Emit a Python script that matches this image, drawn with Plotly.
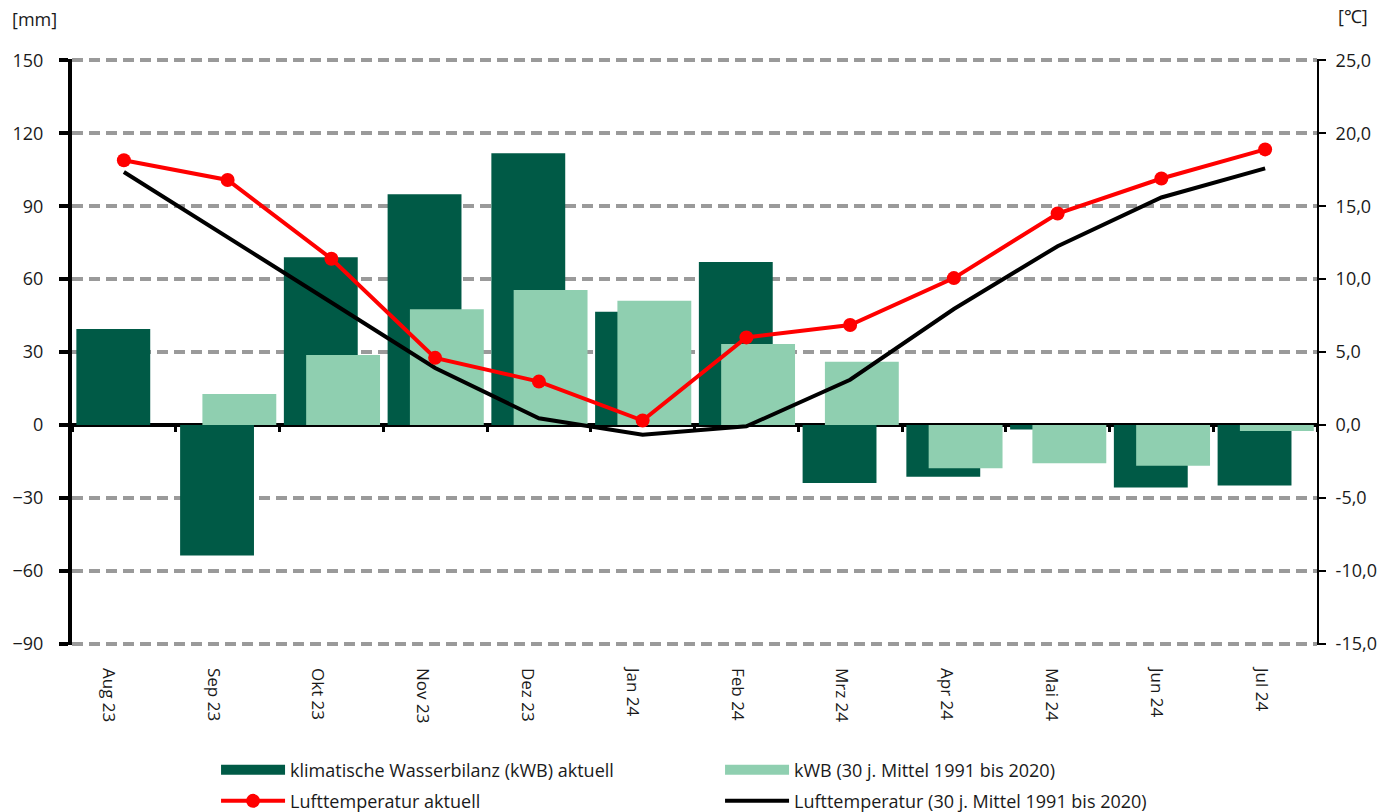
import plotly.graph_objects as go

months = ["Aug 23", "Sep 23", "Okt 23", "Nov 23", "Dez 23", "Jan 24",
          "Feb 24", "Mrz 24", "Apr 24", "Mai 24", "Jun 24", "Jul 24"]
kwb_aktuell = [39.5, -53.8, 69.0, 94.9, 111.8, 46.6, 67.0, -23.9, -21.3, -1.9, -25.8, -24.9]
kwb_mittel = [0.0, 12.7, 28.8, 47.6, 55.5, 51.1, 33.3, 26.0, -17.8, -15.8, -16.8, -2.5]
temp_aktuell = [18.15, 16.8, 11.4, 4.6, 2.97, 0.3, 6.0, 6.85, 10.07, 14.5, 16.9, 18.9]
temp_mittel = [17.35, 12.9, 8.4, 3.9, 0.45, -0.68, -0.1, 3.1, 7.95, 12.26, 15.6, 17.6]

mm_ticks = [-90, -60, -30, 0, 30, 60, 90, 120, 150]
c_ticks = [-15, -10, -5, 0, 5, 10, 15, 20, 25]
c_ticktext = ["-15,0", "-10,0", "-5,0", "0,0", "5,0", "10,0", "15,0", "20,0", "25,0"]

DARK = "#005A46"
LIGHT = "#8FCFB0"
RED = "#FF0000"

idx = list(range(len(months)))
label_pos = [i * 1.0101 - 0.149 for i in idx]
bounds = [i - 0.5 for i in range(len(months) + 1)]

fig = go.Figure()
fig.add_trace(go.Bar(x=idx, y=kwb_aktuell, width=0.712, offset=-0.458,
                     marker=dict(color=DARK, line=dict(width=0)),
                     name="klimatische Wasserbilanz (kWB) aktuell", showlegend=False))
fig.add_trace(go.Bar(x=idx, y=kwb_mittel, width=0.712, offset=-0.243,
                     marker=dict(color=LIGHT, line=dict(width=0)),
                     name="kWB (30 j. Mittel 1991 bis 2020)", showlegend=False))
fig.add_trace(go.Scatter(x=idx, y=temp_mittel, mode="lines", xaxis="x2", yaxis="y2",
                         line=dict(color="black", width=4),
                         name="Lufttemperatur (30 j. Mittel 1991 bis 2020)",
                         legend="legend2", legendrank=4))
fig.add_trace(go.Scatter(x=idx, y=temp_aktuell, mode="lines+markers", xaxis="x2", yaxis="y2",
                         line=dict(color=RED, width=4), marker=dict(color=RED, size=14),
                         name="Lufttemperatur aktuell", legend="legend2", legendrank=3))
# legend swatches for the bar series
fig.add_trace(go.Scatter(x=[None], y=[None], mode="lines", line=dict(color=DARK, width=10),
                         name="klimatische Wasserbilanz (kWB) aktuell", legend="legend", legendrank=1))
fig.add_trace(go.Scatter(x=[None], y=[None], mode="lines", line=dict(color=LIGHT, width=10),
                         name="kWB (30 j. Mittel 1991 bis 2020)", legend="legend", legendrank=2))

grid = dict(showgrid=True, gridcolor="#9a9a9a", gridwidth=3.5, griddash="11px,6px")
leg = dict(orientation="h", x=0.1157, xanchor="left", yanchor="middle",
           entrywidth=425, itemwidth=64, bgcolor="rgba(0,0,0,0)",
           font=dict(size=18, color="#1a1a1a"))

fig.update_layout(
    template="none",
    width=1386, height=812,
    margin=dict(l=72, r=69, t=58.5, b=167, autoexpand=False),
    paper_bgcolor="white", plot_bgcolor="white",
    font=dict(family="Open Sans, Noto Sans, sans-serif", size=18, color="#1a1a1a"),
    barmode="overlay",
    xaxis=dict(range=[-0.5, 11.5], tickmode="array", tickvals=label_pos, ticktext=months,
               tickangle=90, ticks="", showgrid=False, zeroline=False, showline=False,
               tickfont=dict(size=17), ticklabelstandoff=22),
    xaxis2=dict(range=[-0.5, 11.5], overlaying="x", anchor="free", position=90.6 / 241.2,
                tickmode="array", tickvals=bounds, ticks="outside", ticklen=6, tickwidth=3,
                tickcolor="black", showticklabels=False, showgrid=False, zeroline=False,
                showline=False),
    yaxis=dict(range=[-90.6, 150.6], tickmode="array", tickvals=mm_ticks,
               ticks="outside", ticklen=9, tickwidth=4, tickcolor="black",
               showline=True, linewidth=4, linecolor="black",
               zeroline=True, zerolinecolor="black", zerolinewidth=4,
               ticklabelstandoff=12, **grid),
    yaxis2=dict(range=[-15.1, 25.1], overlaying="y", side="right", tickmode="array",
                tickvals=c_ticks, ticktext=c_ticktext, ticks="outside", ticklen=7,
                tickwidth=2, tickcolor="black", showline=True, linewidth=2,
                linecolor="black", showgrid=False, zeroline=False, ticklabelstandoff=6),
    legend=dict(y=-0.2134, **leg),
    legend2=dict(y=-0.2665, **leg),
    annotations=[
        dict(text="[mm]", xref="paper", yref="paper", x=-0.0498, y=1.0686,
             xanchor="left", yanchor="middle", showarrow=False, font=dict(size=18)),
        dict(text="[℃]", xref="paper", yref="paper", x=1.0153, y=1.0737,
             xanchor="left", yanchor="middle", showarrow=False, font=dict(size=18)),
    ],
)

fig.write_html("out.html", config={"displayModeBar": False},
               post_script="document.body.style.margin='0px';document.body.style.overflow='hidden';")
